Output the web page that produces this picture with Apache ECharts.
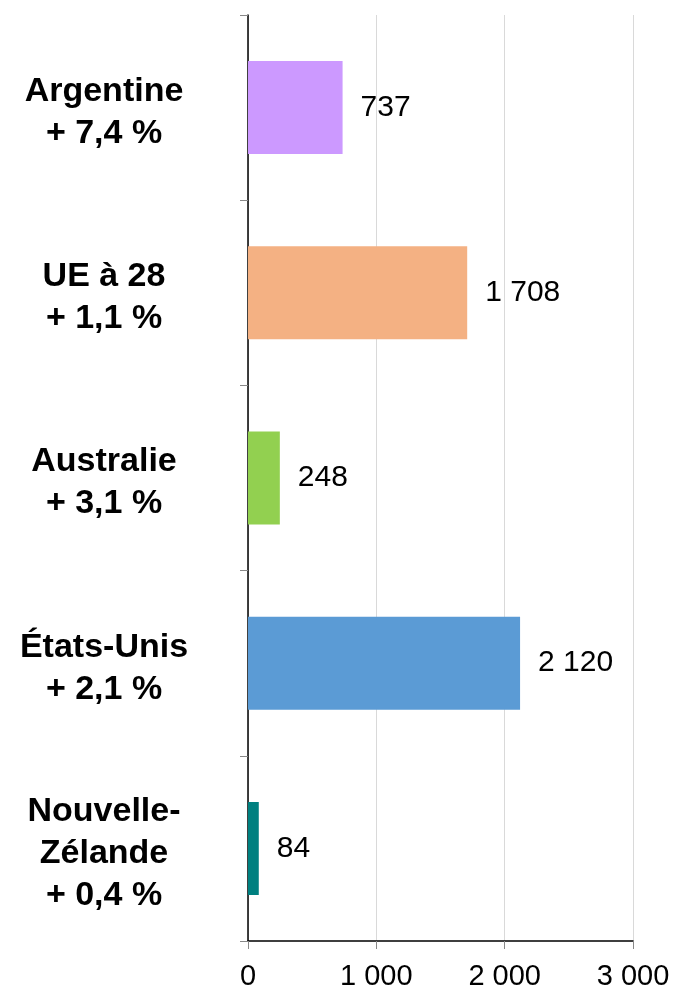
<!DOCTYPE html>
<html>
<head>
<meta charset="utf-8">
<script src="https://cdn.jsdelivr.net/npm/echarts@6/dist/echarts.min.js"></script>
<style>
  html, body { margin: 0; padding: 0; background: #fff; }
  #myChart { width: 673px; height: 992px; }
</style>
</head>
<body>
<div id="myChart"></div>
<script>
// catégories (de haut en bas)
var categories = [
  "Argentine\n+ 7,4 %",
  "UE à 28\n+ 1,1 %",
  "Australie\n+ 3,1 %",
  "États-Unis\n+ 2,1 %",
  "Nouvelle-\nZélande\n+ 0,4 %"
];
var values = [737, 1708, 248, 2120, 84];
var barColors = ["#CC99FF", "#F4B183", "#92D050", "#5B9BD5", "#008080"];

// format "1 000"
function fmt(v) {
  return String(v).replace(/\B(?=(\d{3})+(?!\d))/g, " ");
}

var myChart = echarts.init(document.getElementById("myChart"));
var option = {
  animation: false,
  textStyle: { fontFamily: "Liberation Sans, Arial, sans-serif" },
  grid: { left: 248, right: 40, top: 15, bottom: 51 },
  xAxis: {
    type: "value",
    min: 0,
    max: 3000,
    interval: 1000,
    axisLine: { show: true, lineStyle: { color: "#000", width: 1.5 } },
    axisTick: { show: true, length: 8, lineStyle: { color: "#888" } },
    splitLine: { show: true, lineStyle: { color: "#D9D9D9", width: 1 } },
    axisLabel: {
      fontSize: 29,
      color: "#000",
      margin: 21,
      formatter: fmt
    }
  },
  yAxis: {
    type: "category",
    inverse: true,
    data: categories,
    axisLine: { show: true, lineStyle: { color: "#000", width: 1.5 } },
    axisTick: { show: true, length: 8, lineStyle: { color: "#888" } },
    axisLabel: {
      color: "#000",
      align: "center",
      margin: 144,
      // petite ligne vide au-dessus pour descendre le texte de quelques px
      formatter: function (v) {
        return "{s| }\n{b|" + v.split("\n").join("}\n{b|") + "}";
      },
      rich: {
        s: { fontSize: 2, lineHeight: 10 },
        b: { fontSize: 34, fontWeight: "bold", lineHeight: 42, color: "#000" }
      }
    }
  },
  series: [
    {
      type: "bar",
      barWidth: 93,
      data: values.map(function (v, i) {
        return { value: v, itemStyle: { color: barColors[i] } };
      }),
      label: {
        show: true,
        position: "right",
        distance: 18,
        fontSize: 30,
        color: "#000",
        formatter: function (p) { return fmt(p.value); }
      }
    }
  ]
};
myChart.setOption(option);
</script>
</body>
</html>
